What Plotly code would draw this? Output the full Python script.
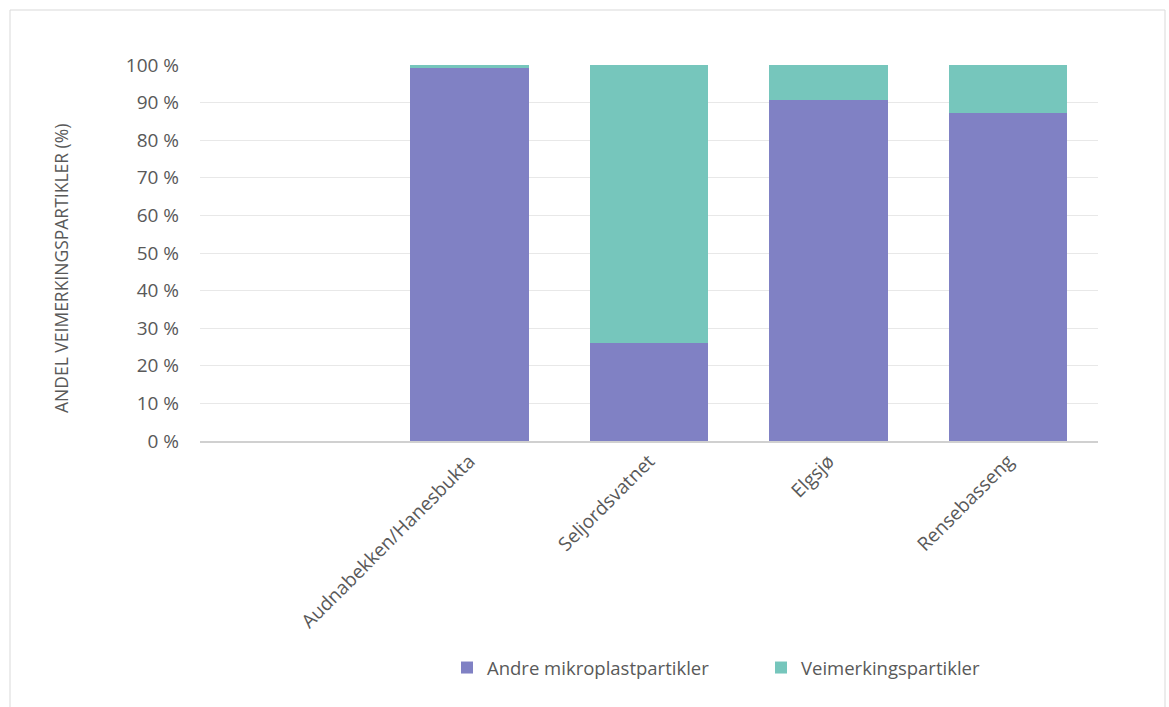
import plotly.graph_objects as go

# Sampling sites and share (%) of particle types per site
sites = ["Audnabekken/Hanesbukta", "Seljordsvatnet", "Elgsjø", "Rensebasseng"]
andre_mikroplast = [99.2, 26.1, 90.6, 87.3]
veimerking = [0.8, 73.9, 9.4, 12.7]

y_ticks = [0, 10, 20, 30, 40, 50, 60, 70, 80, 90, 100]
y_ticklabels = [f"{v} %" for v in y_ticks]
y_title = "ANDEL VEIMERKINGSPARTIKLER (%)"

PURPLE = "#8081C4"
TEAL = "#76C6BC"
TEXT = "#595959"
FONT = "Open Sans"

fig = go.Figure()
fig.add_trace(go.Bar(
    x=sites, y=andre_mikroplast, name="Andre mikroplastpartikler",
    marker=dict(color=PURPLE, line=dict(width=0)),
))
fig.add_trace(go.Bar(
    x=sites, y=veimerking, name="Veimerkingspartikler",
    marker=dict(color=TEAL, line=dict(width=0)),
))

# Plot area geometry in pixels (used for the outer chart frame, legend, axis title)
W, H = 1169, 707
L, R, T, B = 200, 71, 65, 266
pw, ph = W - L - R, H - T - B

def px_to_paper_x(px):
    return (px - L) / pw

def px_to_paper_y(py):
    return (H - B - py) / ph

fig.update_layout(
    width=W, height=H,
    barmode="stack",
    bargap=0.34,
    plot_bgcolor="white",
    paper_bgcolor="white",
    margin=dict(l=L, r=R, t=T, b=B),
    font=dict(family=FONT, color=TEXT, size=17),
    xaxis=dict(
        type="category",
        categoryorder="array", categoryarray=sites,
        range=[-1.5, 3.5],
        tickangle=-45,
        tickfont=dict(size=19, color=TEXT, family=FONT),
        showline=True, linecolor="#D0D0D0", linewidth=1.5,
        showgrid=False, ticks="",
    ),
    yaxis=dict(
        range=[0, 100],
        tickvals=y_ticks, ticktext=y_ticklabels,
        tickfont=dict(size=19, color=TEXT, family=FONT),
        showgrid=True, gridcolor="#E8E8E8", gridwidth=1,
        zeroline=False, showline=False, ticks="",
        ticklabelstandoff=20,
    ),
    annotations=[dict(
        text=y_title, textangle=-90,
        xref="paper", yref="paper",
        x=px_to_paper_x(61), y=px_to_paper_y(269),
        xanchor="center", yanchor="middle",
        showarrow=False,
        font=dict(size=17.5, color=TEXT, family=FONT),
    )],
    legend=dict(
        orientation="h",
        traceorder="normal",
        x=px_to_paper_x(447), xanchor="left",
        y=px_to_paper_y(668), yanchor="middle",
        font=dict(size=18.5, color=TEXT, family=FONT),
        itemwidth=30,
        entrywidth=269,
    ),
    shapes=[dict(
        type="rect", xref="paper", yref="paper",
        x0=px_to_paper_x(10), x1=px_to_paper_x(1165),
        y0=px_to_paper_y(712), y1=px_to_paper_y(10),
        line=dict(color="#D9D9D9", width=1),
        fillcolor="rgba(0,0,0,0)", layer="below",
    )],
)

fig.write_html("out.html")
